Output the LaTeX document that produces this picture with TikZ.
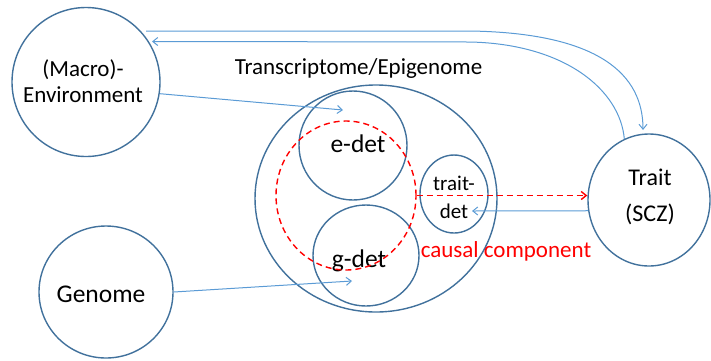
\documentclass[tikz,border=0pt]{standalone}
\usepackage{fontspec}
\setmainfont{Carlito}
\usetikzlibrary{shapes.geometric,arrows.meta}
\definecolor{circblue}{RGB}{65,113,156}
\definecolor{arrblue}{RGB}{91,155,213}
\definecolor{cred}{RGB}{255,0,0}
\begin{document}
\begin{tikzpicture}[x=1pt,y=-1pt,
  circ/.style={ellipse, draw=circblue, line width=1.4pt, inner sep=0pt},
  arr/.style={draw=arrblue, line width=1pt, -{Straight Barb[length=5pt,width=8pt]}},
  redarr/.style={draw=cred, line width=1.4pt, dash pattern=on 6pt off 4pt, -{Straight Barb[length=5pt,width=8pt]}},
  fA/.style={font=\fontsize{23}{26}\selectfont, align=center},
  fB/.style={font=\fontsize{25.5}{30}\selectfont, align=center},
  fC/.style={font=\fontsize{21}{28}\selectfont, align=center}]
\useasboundingbox (0,0) rectangle (711,360);
% circles
\node[circ, minimum width=148pt, minimum height=149pt,
  label={[fA, xshift=-3pt, yshift=1pt]center:(Macro)-\\Environment}] (env) at (86,82) {};
\node[circ, minimum width=134pt, minimum height=132pt,
  label={[fB, xshift=-5pt, yshift=-2pt]center:Genome}] (genome) at (106,292) {};
\node[circ, minimum width=122pt, minimum height=132pt,
  label={[font=\fontsize{24}{36}\selectfont, align=center, xshift=1pt, yshift=3pt]center:Trait\\(SCZ)}] (trait) at (649,200) {};
\node[circ, minimum width=242pt, minimum height=227pt] (tx) at (376,198.5) {};
\node[circ, minimum width=108pt, minimum height=109pt,
  label={[fB, xshift=5pt, yshift=2pt]center:e-det}] (edet) at (353,145.5) {};
\node[circ, minimum width=106pt, minimum height=101pt,
  label={[fB, xshift=-7pt, yshift=-5pt]center:g-det}] (gdet) at (366,255.5) {};
\node[circ, minimum width=68pt, minimum height=78pt,
  label={[fC, yshift=-3pt]center:trait-\\det}] (tdet) at (454,194) {};
\node[ellipse, draw=cred, line width=1.4pt, dash pattern=on 6pt off 4pt, inner sep=0pt,
      minimum width=140pt, minimum height=149pt] (cc) at (346,195.5) {};
% labels
\node[fA] (txlab) at (358.5,68) {Transcriptome/Epigenome};
\node[fA, text=cred] (cclab) at (506,251) {causal component};
% coordinates for free ends
\coordinate (edetin) at (343,110);
\coordinate (gdetin) at (352,281);
\coordinate (tdetin) at (472,211);
\coordinate (u0) at (146,31);
\coordinate (u1) at (643,130);
\coordinate (l1) at (152,41.5);
% connectors
\draw[arr] (env.-9) -- (edetin);
\draw[arr] (genome.east) -- (gdetin);
\draw[arr] (trait.190) -- (tdetin);
\draw[redarr] (cc.east) -- (cc.east -| trait.west);
\draw[arr] (u0) -- (470,31) .. controls (600,33) and (643,75) .. (u1);
\draw[arr] (trait.112) .. controls (620,90) and (565,44) .. (470,42) -- (l1);
\end{tikzpicture}
\end{document}
